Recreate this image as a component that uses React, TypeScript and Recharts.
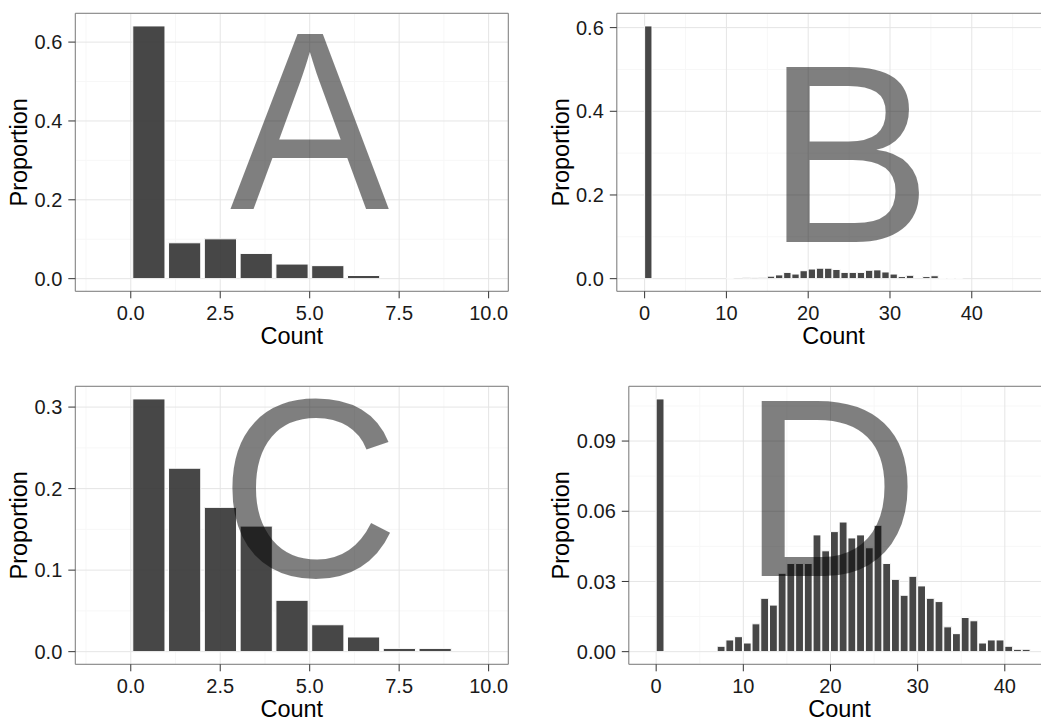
import { BarChart, Bar, XAxis, YAxis, CartesianGrid, ReferenceDot, ReferenceArea } from 'recharts';

const FONT = '"Liberation Sans", Arial, Helvetica, sans-serif';

// Proportions per unit-width bin, index = bin start (bin i covers [i, i + 1))
const propA = [0.641, 0.091, 0.101, 0.064, 0.037, 0.033, 0.008];
const propB = [
    0.604, 0, 0, 0, 0, 0, 0, 0, 0, 0,
    0.001, 0, 0.002, 0.003, 0.002, 0.006, 0.009, 0.015, 0.011, 0.019,
    0.023, 0.025, 0.025, 0.022, 0.015, 0.015, 0.015, 0.02, 0.021, 0.016,
    0.011, 0.005, 0.008, 0, 0.005, 0.007, 0.001, 0.001, 0.001,
];
const propC = [0.31, 0.225, 0.177, 0.154, 0.063, 0.033, 0.018, 0.004, 0.004];
const propD = [
    0.108, 0, 0, 0, 0, 0, 0, 0.0023, 0.005, 0.0064,
    0.0037, 0.0119, 0.0228, 0.0199, 0.0335, 0.0377, 0.0377, 0.0377, 0.0499, 0.0431,
    0.0513, 0.0554, 0.0486, 0.0499, 0.0444, 0.054, 0.0377, 0.0309, 0.0241, 0.0322,
    0.0281, 0.0228, 0.0214, 0.0106, 0.0077, 0.0146, 0.0132, 0.0037, 0.005, 0.005,
    0.0023, 0.001, 0.001,
];

// x axes
const domainNarrow: [number, number] = [-1.55, 10.55];
const ticksNarrow = [0, 2.5, 5, 7.5, 10];
const minorNarrow = [-1.25, 1.25, 3.75, 6.25, 8.75];
const domainB: [number, number] = [-3.4, 49.6];
const domainD: [number, number] = [-3.14, 45.22];
const ticksWide = [0, 10, 20, 30, 40];
const minorWide = [5, 15, 25, 35, 45];

// y axes
const ticksAB = [0, 0.2, 0.4, 0.6];
const minorAB = [0.1, 0.3, 0.5];
const ticksC = [0, 0.1, 0.2, 0.3];
const minorC = [0.05, 0.15, 0.25];
const ticksD = [0, 0.03, 0.06, 0.09];
const minorD = [0.015, 0.045, 0.075, 0.105];

const PANEL_W = 541.5;
const PANEL_H = 372.5;
const PLOT_TOP = 13.3;
const PLOT_RIGHT = 508.3;
const PLOT_BOTTOM = 291.3;
const LETTER_SIZE = 254;

interface PanelProps {
    values: number[];
    xDomain: [number, number];
    xTicks: number[];
    xMinor: number[];
    xDigits: number;
    yTicks: number[];
    yMinor: number[];
    yDigits: number;
    yAxisWidth: number;
    letter: string;
    letterX: number;
    letterY: number;
    letterStretch?: number;
}

const HistPanel = ({
    values, xDomain, xTicks, xMinor, xDigits, yTicks, yMinor, yDigits, yAxisWidth,
    letter, letterX, letterY, letterStretch = 1,
}: PanelProps) => {
    const data = values.map((p, i) => ({ mid: i + 0.5, p }));
    const yMax = Math.max(...values);
    // ggplot-style 5% expansion
    const yDomain: [number, number] = [-0.05 * yMax, 1.05 * yMax];
    const binPx = (PLOT_RIGHT - yAxisWidth) / (xDomain[1] - xDomain[0]);
    const tickStyle = { fill: '#1a1a1a', fontSize: 20, fontFamily: FONT };

    return (
        <BarChart
            width={PANEL_W}
            height={PANEL_H}
            data={data}
            margin={{ top: PLOT_TOP, right: PANEL_W - PLOT_RIGHT, bottom: 0, left: 0 }}
        >
            <CartesianGrid stroke="#f7f7f7" strokeWidth={1} horizontalValues={yMinor} verticalValues={xMinor} />
            <CartesianGrid stroke="#e5e5e5" strokeWidth={1} />
            <XAxis
                type="number"
                dataKey="mid"
                domain={xDomain}
                ticks={xTicks}
                interval={0}
                allowDataOverflow
                height={PANEL_H - PLOT_BOTTOM}
                axisLine={false}
                tickSize={7}
                tickMargin={7.5}
                tickLine={{ stroke: '#333', strokeWidth: 1 }}
                tick={tickStyle}
                tickFormatter={(v: number) => v.toFixed(xDigits)}
                label={{
                    content: ({ viewBox }: any) => (
                        <text
                            x={viewBox.x + viewBox.width / 2}
                            y={viewBox.y + 52.3}
                            textAnchor="middle"
                            fill="#000"
                            fontSize={23.5}
                            fontFamily={FONT}
                        >
                            Count
                        </text>
                    ),
                }}
            />
            <YAxis
                type="number"
                domain={yDomain}
                ticks={yTicks}
                interval={0}
                allowDataOverflow
                width={yAxisWidth}
                axisLine={false}
                tickSize={7}
                tickMargin={6}
                tickLine={{ stroke: '#333', strokeWidth: 1 }}
                tick={tickStyle}
                tickFormatter={(v: number) => v.toFixed(yDigits)}
                label={{
                    content: ({ viewBox }: any) => {
                        const cy = viewBox.y + viewBox.height / 2;
                        return (
                            <text
                                x={27}
                                y={cy}
                                transform={`rotate(-90 27 ${cy})`}
                                textAnchor="middle"
                                fill="#000"
                                fontSize={23.5}
                                fontFamily={FONT}
                            >
                                Proportion
                            </text>
                        );
                    },
                }}
            />
            <Bar
                dataKey="p"
                barSize={binPx}
                fill="#333333"
                fillOpacity={0.9}
                stroke="#ffffff"
                strokeWidth={1}
                isAnimationActive={false}
            />
            {/* big panel letter, black at half opacity so bars show through */}
            <ReferenceDot
                x={letterX}
                y={letterY}
                r={0}
                ifOverflow="visible"
                shape={(p: any) => (
                    <text
                        x={p.cx}
                        y={p.cy + LETTER_SIZE * 0.348}
                        transform={`matrix(${letterStretch} 0 0 1 ${p.cx * (1 - letterStretch)} 0)`}
                        textAnchor="middle"
                        fill="#000"
                        fillOpacity={0.5}
                        fontSize={LETTER_SIZE}
                        fontFamily={FONT}
                    >
                        {letter}
                    </text>
                )}
            />
            <ReferenceArea
                x1={xDomain[0]}
                x2={xDomain[1]}
                y1={yDomain[0]}
                y2={yDomain[1]}
                ifOverflow="visible"
                fill="none"
                stroke="#7f7f7f"
                strokeWidth={1}
            />
        </BarChart>
    );
};

const cell = (col: number, row: number) => ({
    position: 'absolute' as const,
    left: col * PANEL_W,
    top: row * PANEL_H,
    width: PANEL_W,
    height: PANEL_H,
});

export default function App() {
    return (
        <div
            style={{
                position: 'absolute',
                left: 0,
                top: 0,
                width: 1041,
                height: 717,
                overflow: 'hidden',
                background: '#fff',
            }}
        >
            <div style={cell(0, 0)}>
                <HistPanel
                    values={propA}
                    xDomain={domainNarrow}
                    xTicks={ticksNarrow}
                    xMinor={minorNarrow}
                    xDigits={1}
                    yTicks={ticksAB}
                    yMinor={minorAB}
                    yDigits={1}
                    yAxisWidth={75.3}
                    letter="A"
                    letterX={5}
                    letterY={0.4}
                    letterStretch={0.94}
                />
            </div>
            <div style={cell(1, 0)}>
                <HistPanel
                    values={propB}
                    xDomain={domainB}
                    xTicks={ticksWide}
                    xMinor={minorWide}
                    xDigits={0}
                    yTicks={ticksAB}
                    yMinor={minorAB}
                    yDigits={1}
                    yAxisWidth={74.8}
                    letter="B"
                    letterX={25}
                    letterY={0.3}
                    letterStretch={0.98}
                />
            </div>
            <div style={cell(0, 1)}>
                <HistPanel
                    values={propC}
                    xDomain={domainNarrow}
                    xTicks={ticksNarrow}
                    xMinor={minorNarrow}
                    xDigits={1}
                    yTicks={ticksC}
                    yMinor={minorC}
                    yDigits={1}
                    yAxisWidth={75.3}
                    letter="C"
                    letterX={5}
                    letterY={0.2}
                    letterStretch={0.98}
                />
            </div>
            <div style={cell(1, 1)}>
                <HistPanel
                    values={propD}
                    xDomain={domainD}
                    xTicks={ticksWide}
                    xMinor={minorWide}
                    xDigits={0}
                    yTicks={ticksD}
                    yMinor={minorD}
                    yDigits={2}
                    yAxisWidth={86.8}
                    letter="D"
                    letterX={20}
                    letterY={0.07}
                    letterStretch={0.97}
                />
            </div>
        </div>
    );
}
